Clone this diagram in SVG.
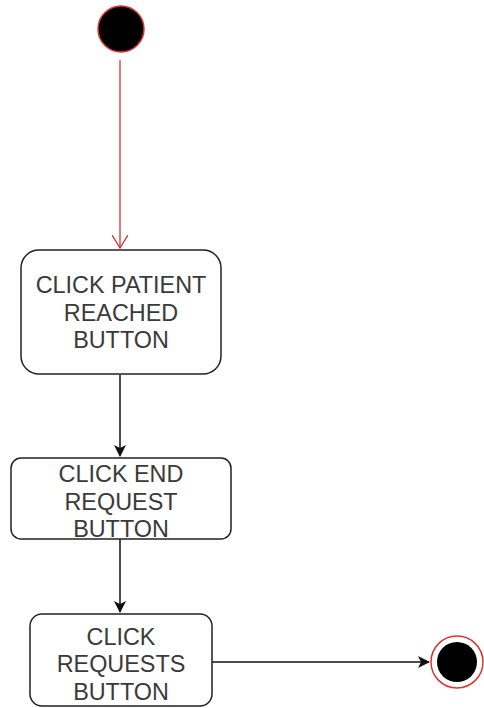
<svg xmlns="http://www.w3.org/2000/svg" width="484" height="708" viewBox="0 0 484 708">
<defs>
<style>
.box{fill:#fff;stroke:#222;stroke-width:1.5}
.t{font-family:"Liberation Sans",Arial,sans-serif;font-size:23.4px;fill:#3a3a3a;text-anchor:middle}
.edge{fill:none;stroke:#111;stroke-width:1.5}
</style>
<marker id="open" markerWidth="14" markerHeight="16" refX="13" refY="8" orient="auto" markerUnits="userSpaceOnUse" viewBox="0 0 14 16">
<path d="M0,0 L13,8 L0,16" fill="none" stroke="#c33" stroke-width="1.3"/>
</marker>
<marker id="fill" markerWidth="12" markerHeight="12" refX="11" refY="6" orient="auto" markerUnits="userSpaceOnUse" viewBox="0 0 12 12">
<path d="M0,0 L12,6 L0,12 L3,6 Z" fill="#111"/>
</marker>
</defs>
<g id="connectors">
<line x1="120" y1="60" x2="120" y2="248" stroke="#c33" stroke-width="1.3" marker-end="url(#open)"/>
<line class="edge" x1="120" y1="375" x2="120" y2="456" marker-end="url(#fill)"/>
<line class="edge" x1="120" y1="539" x2="120" y2="612" marker-end="url(#fill)"/>
<line class="edge" x1="212" y1="662" x2="429" y2="662" marker-end="url(#fill)"/>
</g>
<g id="start">
<circle cx="121" cy="29" r="23" fill="#000" stroke="#d33" stroke-width="1.5"/>
</g>
<g id="node1">
<rect class="box" x="21" y="250" width="200" height="124" rx="18"/>
<text class="t" x="121" y="293">CLICK PATIENT</text>
<text class="t" x="121" y="321">REACHED</text>
<text class="t" x="121" y="348">BUTTON</text>
</g>
<g id="node2">
<rect class="box" x="11" y="458" width="220" height="81" rx="10"/>
<text class="t" x="121" y="482">CLICK END</text>
<text class="t" x="121" y="510">REQUEST</text>
<text class="t" x="121" y="537">BUTTON</text>
</g>
<g id="node3">
<rect class="box" x="30" y="614" width="182" height="92" rx="12"/>
<text class="t" x="121" y="645">CLICK</text>
<text class="t" x="121" y="672">REQUESTS</text>
<text class="t" x="121" y="700">BUTTON</text>
</g>
<g id="end">
<circle cx="457" cy="662" r="26" fill="#fff" stroke="#d33" stroke-width="1.5"/>
<circle cx="457" cy="662" r="20" fill="#000"/>
</g>
</svg>
